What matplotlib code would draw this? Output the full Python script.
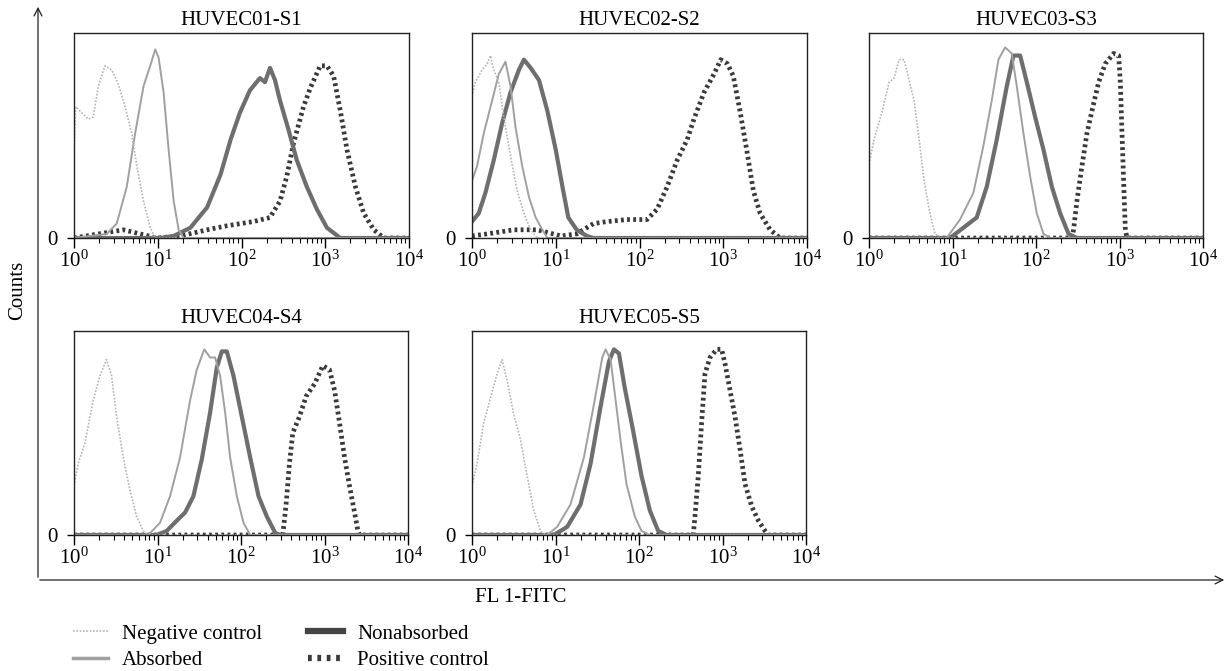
import numpy as np
import matplotlib
matplotlib.use("Agg")
import matplotlib.pyplot as plt
from matplotlib.lines import Line2D
from matplotlib.patches import FancyArrowPatch
from matplotlib.ticker import LogLocator, NullFormatter

plt.rcParams["font.family"] = ["Liberation Serif", "DejaVu Serif"]
plt.rcParams["mathtext.fontset"] = "stix"

# x values are log10(FL1-FITC), y are counts as fraction of panel height
TITLES = ["HUVEC01-S1", "HUVEC02-S2", "HUVEC03-S3", "HUVEC04-S4", "HUVEC05-S5"]
LABELS = ["Negative control", "Absorbed", "Nonabsorbed", "Positive control"]

# HUVEC01-S1
s1_neg_x = [0, 0.02, 0.17, 0.23, 0.29, 0.37, 0.45, 0.53, 0.61, 0.69, 0.75, 0.83, 0.91, 0.97, 4.0]
s1_neg_y = [0.42, 0.64, 0.58, 0.59, 0.74, 0.84, 0.82, 0.75, 0.64, 0.51, 0.35, 0.18, 0.05, 0.0, 0.0]
s1_abs_x = [0, 0.39, 0.51, 0.63, 0.73, 0.83, 0.91, 0.97, 1.01, 1.07, 1.13, 1.19, 1.25, 1.31, 4.0]
s1_abs_y = [0, 0.02, 0.07, 0.25, 0.51, 0.74, 0.84, 0.92, 0.88, 0.71, 0.43, 0.18, 0.04, 0.0, 0.0]
s1_non_x = [0, 1.03, 1.19, 1.39, 1.59, 1.75, 1.87, 1.98, 2.10, 2.22, 2.28, 2.34, 2.40, 2.46, 2.56,
            2.66, 2.78, 2.90, 3.02, 3.18, 4.0]
s1_non_y = [0, 0, 0.01, 0.05, 0.15, 0.31, 0.48, 0.61, 0.72, 0.78, 0.76, 0.83, 0.77, 0.67, 0.53,
            0.38, 0.25, 0.14, 0.05, 0.0, 0.0]
s1_pos_x = [0, 0.59, 0.79, 0.99, 1.27, 1.59, 1.83, 2.14, 2.34, 2.46, 2.54, 2.62, 2.74, 2.82, 2.94,
            3.02, 3.10, 3.18, 3.26, 3.36, 3.46, 3.58, 3.70, 4.0]
s1_pos_y = [0, 0.04, 0.02, 0.0, 0.01, 0.04, 0.06, 0.08, 0.10, 0.18, 0.30, 0.46, 0.64, 0.73, 0.84,
            0.84, 0.79, 0.62, 0.43, 0.25, 0.12, 0.04, 0.0, 0.0]

# HUVEC02-S2
s2_neg_x = [0, 0.04, 0.12, 0.18, 0.22, 0.26, 0.32, 0.38, 0.46, 0.54, 0.62, 0.70, 0.78, 4.0]
s2_neg_y = [0.69, 0.76, 0.82, 0.85, 0.89, 0.82, 0.76, 0.59, 0.40, 0.23, 0.12, 0.04, 0.0, 0.0]
s2_abs_x = [0, 0.06, 0.14, 0.24, 0.32, 0.40, 0.46, 0.52, 0.60, 0.68, 0.76, 0.84, 0.90, 4.0]
s2_abs_y = [0.28, 0.35, 0.51, 0.67, 0.80, 0.86, 0.74, 0.54, 0.35, 0.20, 0.10, 0.04, 0.0, 0.0]
s2_non_x = [0, 0.08, 0.16, 0.26, 0.36, 0.46, 0.56, 0.62, 0.70, 0.80, 0.90, 1.00, 1.08, 1.15,
            1.25, 1.37, 1.45, 4.0]
s2_non_y = [0.08, 0.12, 0.22, 0.38, 0.56, 0.71, 0.82, 0.87, 0.83, 0.77, 0.62, 0.43, 0.25, 0.10,
            0.04, 0.01, 0.0, 0.0]
s2_pos_x = [0, 0.18, 0.50, 0.78, 1.06, 1.25, 1.45, 1.61, 1.85, 2.09, 2.21, 2.33, 2.45, 2.57, 2.65,
            2.77, 2.89, 2.97, 3.05, 3.12, 3.20, 3.28, 3.36, 3.44, 3.56, 3.68, 4.0]
s2_pos_y = [0.01, 0.02, 0.04, 0.04, 0.01, 0.02, 0.07, 0.08, 0.09, 0.09, 0.14, 0.25, 0.38, 0.48, 0.58,
            0.71, 0.80, 0.87, 0.85, 0.79, 0.62, 0.43, 0.23, 0.12, 0.04, 0.0, 0.0]

# HUVEC03-S3
s3_neg_x = [0, 0.06, 0.16, 0.24, 0.30, 0.36, 0.42, 0.48, 0.54, 0.60, 0.66, 0.72, 0.79, 0.85, 4.0]
s3_neg_y = [0.36, 0.48, 0.62, 0.76, 0.78, 0.87, 0.87, 0.77, 0.67, 0.48, 0.28, 0.14, 0.02, 0.0, 0.0]
s3_abs_x = [0, 0.93, 1.09, 1.25, 1.37, 1.47, 1.55, 1.63, 1.71, 1.77, 1.85, 1.93, 2.01, 2.09, 2.17, 4.0]
s3_abs_y = [0, 0, 0.09, 0.22, 0.45, 0.67, 0.87, 0.93, 0.90, 0.74, 0.51, 0.30, 0.12, 0.02, 0.0, 0.0]
s3_non_x = [0, 0.97, 1.13, 1.29, 1.41, 1.53, 1.65, 1.73, 1.81, 1.89, 1.99, 2.09, 2.19, 2.29, 2.39,
            2.49, 4.0]
s3_non_y = [0, 0, 0.05, 0.10, 0.25, 0.48, 0.74, 0.89, 0.89, 0.76, 0.59, 0.43, 0.25, 0.12, 0.02,
            0.0, 0.0]
s3_pos_x = [0, 2.43, 2.45, 2.49, 2.55, 2.61, 2.67, 2.75, 2.83, 2.93, 2.99, 3.01, 3.03, 3.05, 3.07,
            3.09, 4.0]
s3_pos_y = [0, 0, 0.04, 0.18, 0.35, 0.51, 0.62, 0.76, 0.85, 0.90, 0.89, 0.76, 0.51, 0.27, 0.04,
            0.0, 0.0]

# HUVEC04-S4
s4_neg_x = [0, 0.05, 0.13, 0.23, 0.31, 0.39, 0.45, 0.51, 0.59, 0.67, 0.75, 0.83, 0.89, 4.0]
s4_neg_y = [0.24, 0.35, 0.45, 0.66, 0.78, 0.86, 0.78, 0.58, 0.38, 0.22, 0.09, 0.02, 0.0, 0.0]
s4_abs_x = [0, 0.89, 1.03, 1.15, 1.27, 1.39, 1.47, 1.56, 1.63, 1.69, 1.75, 1.81, 1.87, 1.95, 2.03,
            2.11, 4.0]
s4_abs_y = [0, 0, 0.06, 0.19, 0.38, 0.66, 0.81, 0.91, 0.87, 0.87, 0.78, 0.60, 0.38, 0.19, 0.06,
            0.0, 0.0]
s4_non_x = [0, 0.99, 1.11, 1.23, 1.33, 1.43, 1.53, 1.63, 1.71, 1.77, 1.83, 1.91, 2.01, 2.11, 2.21,
            2.31, 2.41, 2.47, 4.0]
s4_non_y = [0, 0, 0.02, 0.07, 0.11, 0.19, 0.37, 0.60, 0.82, 0.90, 0.90, 0.78, 0.58, 0.38, 0.19,
            0.09, 0.01, 0.0, 0.0]
s4_pos_x = [0, 2.50, 2.54, 2.58, 2.62, 2.70, 2.78, 2.88, 2.98, 3.06, 3.12, 3.18, 3.24, 3.30, 3.36,
            3.40, 3.42, 4.0]
s4_pos_y = [0, 0, 0.15, 0.35, 0.50, 0.58, 0.68, 0.74, 0.83, 0.81, 0.71, 0.55, 0.38, 0.24, 0.11,
            0.02, 0.0, 0.0]

# HUVEC05-S5
s5_neg_x = [0, 0.06, 0.14, 0.22, 0.30, 0.36, 0.42, 0.50, 0.58, 0.66, 0.74, 0.82, 0.88, 4.0]
s5_neg_y = [0.24, 0.35, 0.55, 0.67, 0.79, 0.86, 0.76, 0.59, 0.47, 0.29, 0.12, 0.02, 0.0, 0.0]
s5_abs_x = [0, 0.90, 1.02, 1.18, 1.34, 1.46, 1.56, 1.60, 1.66, 1.72, 1.78, 1.85, 1.95, 2.03, 2.13, 4.0]
s5_abs_y = [0, 0, 0.04, 0.15, 0.38, 0.64, 0.87, 0.91, 0.86, 0.66, 0.46, 0.25, 0.09, 0.02, 0.0, 0.0]
s5_non_x = [0, 0.98, 1.14, 1.30, 1.42, 1.54, 1.64, 1.70, 1.76, 1.83, 1.93, 2.03, 2.13, 2.23, 2.33, 4.0]
s5_non_y = [0, 0, 0.04, 0.15, 0.35, 0.63, 0.85, 0.91, 0.89, 0.72, 0.51, 0.29, 0.12, 0.02, 0.0, 0.0]
s5_pos_x = [0, 2.65, 2.67, 2.71, 2.75, 2.79, 2.85, 2.93, 2.99, 3.03, 3.09, 3.15, 3.21, 3.27, 3.35,
            3.43, 3.51, 3.55, 4.0]
s5_pos_y = [0, 0, 0.09, 0.29, 0.55, 0.79, 0.87, 0.91, 0.91, 0.84, 0.71, 0.58, 0.42, 0.25, 0.14,
            0.07, 0.02, 0.0, 0.0]

panels = [
    [(s1_neg_x, s1_neg_y), (s1_abs_x, s1_abs_y), (s1_non_x, s1_non_y), (s1_pos_x, s1_pos_y)],
    [(s2_neg_x, s2_neg_y), (s2_abs_x, s2_abs_y), (s2_non_x, s2_non_y), (s2_pos_x, s2_pos_y)],
    [(s3_neg_x, s3_neg_y), (s3_abs_x, s3_abs_y), (s3_non_x, s3_non_y), (s3_pos_x, s3_pos_y)],
    [(s4_neg_x, s4_neg_y), (s4_abs_x, s4_abs_y), (s4_non_x, s4_non_y), (s4_pos_x, s4_pos_y)],
    [(s5_neg_x, s5_neg_y), (s5_abs_x, s5_abs_y), (s5_non_x, s5_non_y), (s5_pos_x, s5_pos_y)],
]

styles = [
    dict(color="#b4b4b4", lw=1.2, ls=(0, (1, 1))),
    dict(color="#a0a0a0", lw=1.4, ls="-"),
    dict(color="#6e6e6e", lw=3.0, ls="-"),
    dict(color="#3a3a3a", lw=3.4, ls=(0, (0.6, 0.7))),
]

FS = 15
W, H = 1229, 671
fig = plt.figure(figsize=(W / 100, H / 100), dpi=100)

# panel boxes in pixels: left, top, right, bottom
boxes = [(74, 33, 409, 238), (472, 33, 807, 238), (869, 33, 1203, 238),
         (74, 331, 408, 535), (472, 331, 806, 535)]

for i, (l, t, r, b) in enumerate(boxes):
    ax = fig.add_axes([l / W, 1 - b / H, (r - l) / W, (b - t) / H])
    # draw positive first so thinner curves stay visible
    for k in [3, 2, 1, 0]:
        xs, ys = panels[i][k]
        ax.plot(10 ** np.array(xs), ys, **styles[k], zorder=2 + (3 - k) * 0.1)
    ax.set_xscale("log")
    ax.set_xlim(1, 1e4)
    ax.set_ylim(0, 1)
    ax.set_yticks([0])
    ax.set_yticklabels(["0"])
    ax.xaxis.set_minor_locator(LogLocator(base=10, subs=np.arange(2, 10), numticks=20))
    ax.xaxis.set_minor_formatter(NullFormatter())
    ax.tick_params(axis="x", which="major", direction="out", length=7, width=1, labelsize=FS, pad=2)
    ax.tick_params(axis="x", which="minor", direction="out", length=3.5, width=0.8)
    ax.tick_params(axis="y", direction="out", length=5, width=1, labelsize=FS, pad=7)
    for sp in ax.spines.values():
        sp.set_linewidth(1.0)
        sp.set_color("#222222")
        sp.set_zorder(5)
    ax.set_title(TITLES[i], fontsize=FS, pad=6)

# outer axis arrows
arrow = dict(arrowstyle="->", lw=0.9, color="#222222", mutation_scale=14)
fig.add_artist(FancyArrowPatch((38 / W, 1 - 580 / H), (38 / W, 1 - 4 / H),
                               transform=fig.transFigure, **arrow))
fig.add_artist(FancyArrowPatch((37 / W, 1 - 580 / H), (1227 / W, 1 - 580 / H),
                               transform=fig.transFigure, **arrow))
fig.text(18 / W, 1 - 290 / H, "Counts", rotation=90, ha="center", va="center", fontsize=FS)
fig.text(521 / W, 1 - 598 / H, "FL 1-FITC", ha="center", va="center", fontsize=FS)

handles = [Line2D([], [], color="#b4b4b4", lw=1.2, ls=(0, (1, 1))),
           Line2D([], [], color="#a0a0a0", lw=2.5, ls="-"),
           Line2D([], [], color="#444444", lw=4.5, ls="-"),
           Line2D([], [], color="#3a3a3a", lw=4.5, ls=(0, (0.6, 0.9)))]
fig.legend(handles, LABELS, ncol=2, loc="upper left", bbox_to_anchor=(73 / W, 1 - 624 / H),
           frameon=False, fontsize=FS, handlelength=1.7, handletextpad=0.65,
           labelspacing=0.35, columnspacing=2.2, borderpad=0, borderaxespad=0)

plt.savefig("out.png", dpi=100)
